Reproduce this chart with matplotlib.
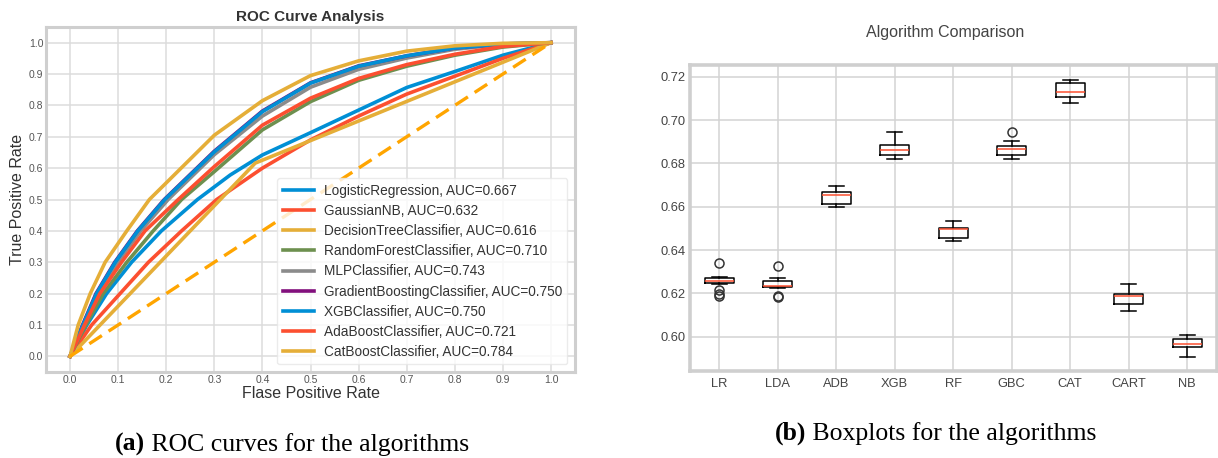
import numpy as np
import matplotlib
matplotlib.use("Agg")
import matplotlib.pyplot as plt

plt.rcParams['font.family'] = ['Liberation Sans', 'DejaVu Sans']

# ROC curves (fpr, tpr)
lr_fpr = [0, 0.035, 0.076, 0.128, 0.19, 0.265, 0.333, 0.4, 0.5, 0.6, 0.7, 0.8, 0.9, 1.0]
lr_tpr = [0, 0.1, 0.2, 0.3, 0.4, 0.5, 0.578, 0.642, 0.713, 0.785, 0.857, 0.908, 0.96, 1.0]
gnb_fpr = [0, 0.045, 0.104, 0.163, 0.232, 0.305, 0.4, 0.5, 0.6, 0.7, 0.8, 0.9, 1.0]
gnb_tpr = [0, 0.1, 0.2, 0.3, 0.4, 0.5, 0.60, 0.69, 0.766, 0.836, 0.893, 0.95, 1.0]
dt_fpr = [0, 0.385, 1.0]
dt_tpr = [0, 0.616, 1.0]
rf_fpr = [0, 0.033, 0.069, 0.118, 0.173, 0.232, 0.3, 0.4, 0.5, 0.6, 0.7, 0.8, 0.9, 1.0]
rf_tpr = [0, 0.1, 0.2, 0.3, 0.4, 0.5, 0.589, 0.722, 0.812, 0.88, 0.925, 0.96, 0.986, 1.0]
mlp_fpr = [0, 0.029, 0.058, 0.099, 0.147, 0.204, 0.3, 0.4, 0.5, 0.6, 0.7, 0.8, 0.9, 1.0]
mlp_tpr = [0, 0.1, 0.2, 0.3, 0.4, 0.5, 0.643, 0.766, 0.858, 0.915, 0.951, 0.979, 0.994, 1.0]
gb_fpr = [0, 0.026, 0.054, 0.093, 0.140, 0.196, 0.3, 0.4, 0.5, 0.6, 0.7, 0.8, 0.9, 1.0]
gb_tpr = [0, 0.1, 0.2, 0.3, 0.4, 0.5, 0.654, 0.782, 0.872, 0.926, 0.958, 0.983, 0.996, 1.0]
xgb_fpr = [0, 0.027, 0.055, 0.094, 0.141, 0.197, 0.3, 0.4, 0.5, 0.6, 0.7, 0.8, 0.9, 1.0]
xgb_tpr = [0, 0.1, 0.2, 0.3, 0.4, 0.5, 0.652, 0.78, 0.871, 0.925, 0.958, 0.983, 0.996, 1.0]
ada_fpr = [0, 0.03, 0.062, 0.107, 0.156, 0.225, 0.3, 0.4, 0.5, 0.6, 0.7, 0.8, 0.9, 1.0]
ada_tpr = [0, 0.1, 0.2, 0.3, 0.4, 0.5, 0.605, 0.737, 0.823, 0.886, 0.93, 0.963, 0.988, 1.0]
cat_fpr = [0, 0.017, 0.042, 0.073, 0.118, 0.165, 0.2, 0.3, 0.4, 0.5, 0.6, 0.7, 0.8, 0.9, 1.0]
cat_tpr = [0, 0.1, 0.2, 0.3, 0.4, 0.5, 0.553, 0.705, 0.815, 0.895, 0.942, 0.973, 0.99, 0.998, 1.0]

roc_names = ['LogisticRegression', 'GaussianNB', 'DecisionTreeClassifier',
             'RandomForestClassifier', 'MLPClassifier', 'GradientBoostingClassifier',
             'XGBClassifier', 'AdaBoostClassifier', 'CatBoostClassifier']
roc_auc = [0.667, 0.632, 0.616, 0.710, 0.743, 0.750, 0.750, 0.721, 0.784]
roc_fpr = [lr_fpr, gnb_fpr, dt_fpr, rf_fpr, mlp_fpr, gb_fpr, xgb_fpr, ada_fpr, cat_fpr]
roc_tpr = [lr_tpr, gnb_tpr, dt_tpr, rf_tpr, mlp_tpr, gb_tpr, xgb_tpr, ada_tpr, cat_tpr]
roc_colors = ['#008fd5', '#fc4f30', '#e5ae38', '#6d904f', '#8b8b8b',
              '#810f7c', '#008fd5', '#fc4f30', '#e5ae38']

# boxplot stats
box_names = ['LR', 'LDA', 'ADB', 'XGB', 'RF', 'GBC', 'CAT', 'CART', 'NB']
box_med = [0.6258, 0.6235, 0.6652, 0.6860, 0.6496, 0.6868, 0.7131, 0.6186, 0.5965]
box_q1 = [0.6249, 0.6229, 0.6612, 0.6839, 0.6454, 0.6839, 0.7105, 0.6150, 0.5951]
box_q3 = [0.6270, 0.6257, 0.6666, 0.6886, 0.6503, 0.6880, 0.7172, 0.6197, 0.5989]
box_lo = [0.6245, 0.6225, 0.6600, 0.6820, 0.6443, 0.6820, 0.7080, 0.6120, 0.5908]
box_hi = [0.6276, 0.6270, 0.6696, 0.6946, 0.6534, 0.6905, 0.7185, 0.6243, 0.6008]
box_fliers = [[0.6342, 0.6215, 0.6195, 0.6188], [0.6328, 0.6188, 0.6182],
              [], [], [], [0.6945], [], [], []]

W, H = 1218, 458
fig = plt.figure(figsize=(W / 100, H / 100), dpi=100)
fig.patch.set_facecolor('white')

def style_axes(ax, spine_w, grid_c):
    ax.set_facecolor('white')
    for s in ax.spines.values():
        s.set_color('#cfcfcf')
        s.set_linewidth(spine_w)
    ax.grid(True, color=grid_c, linewidth=1.1)
    ax.set_axisbelow(True)
    ax.tick_params(length=0)

# ---- left: ROC curves
ax1 = fig.add_axes([46 / W, (H - 372) / H, 529 / W, 345 / H])
style_axes(ax1, 2.2, '#dcdcdc')
for name, auc, fx, ty, c in zip(roc_names, roc_auc, roc_fpr, roc_tpr, roc_colors):
    ax1.plot(fx, ty, color=c, lw=2.6, label='{}, AUC={:.3f}'.format(name, auc))
ax1.plot([0, 1], [0, 1], color='orange', lw=2.4, linestyle=(0, (4.5, 2.4)))
ax1.set_xlim(-0.05, 1.05)
ax1.set_ylim(-0.05, 1.05)
ticks = np.arange(0, 1.01, 0.1)
ax1.set_xticks(ticks)
ax1.set_yticks(ticks)
ax1.set_xticklabels(['{:.1f}'.format(t) for t in ticks])
ax1.set_yticklabels(['{:.1f}'.format(t) for t in ticks])
ax1.tick_params(labelsize=7.5, labelcolor='#555555', pad=2)
ax1.set_xlabel('Flase Positive Rate', fontsize=11.5, color='#333333', labelpad=1)
ax1.set_ylabel('True Positive Rate', fontsize=11.5, color='#333333', labelpad=3)
ax1.set_title('ROC Curve Analysis', fontsize=11, fontweight='bold', color='#333333', pad=4)
leg = ax1.legend(loc='lower right', fontsize=9.85, labelspacing=0.45, frameon=True,
                 framealpha=0.8, handlelength=2.3, handletextpad=0.7,
                 borderpad=0.4, borderaxespad=0.55)
leg.get_frame().set_edgecolor('#e6e6e6')
for t in leg.get_texts():
    t.set_color('#333333')

# ---- right: boxplots
ax2 = fig.add_axes([690 / W, (H - 370.7) / H, 526.5 / W, 305.7 / H])
style_axes(ax2, 2.6, '#d3d3d3')
stats = []
for i in range(len(box_names)):
    stats.append({'label': box_names[i], 'med': box_med[i], 'q1': box_q1[i],
                  'q3': box_q3[i], 'whislo': box_lo[i], 'whishi': box_hi[i],
                  'fliers': box_fliers[i]})
ax2.bxp(stats, widths=0.5,
        boxprops=dict(color='black', linewidth=1.1),
        whiskerprops=dict(color='black', linewidth=1.1),
        capprops=dict(color='black', linewidth=1.1),
        medianprops=dict(color='#fc4f30', linewidth=1.1),
        flierprops=dict(marker='o', markerfacecolor='none', markeredgecolor='#333333',
                        markersize=6.5, markeredgewidth=1.1))
ax2.set_xlim(0.5, 9.5)
ax2.set_ylim(0.5843, 0.7254)
ax2.set_yticks([0.60, 0.62, 0.64, 0.66, 0.68, 0.70, 0.72])
ax2.yaxis.set_major_formatter(matplotlib.ticker.FormatStrFormatter('%.2f'))
ax2.tick_params(labelsize=9.3, labelcolor='#444444')
ax2.tick_params(axis='y', pad=3.5)
ax2.tick_params(axis='x', pad=5)
fig.text(945 / W, 1 - 32 / H, 'Algorithm Comparison', fontsize=11.5, color='#444444',
         ha='center', va='center')

# ---- captions: bold label followed by regular text
cap_font = ['Liberation Serif', 'DejaVu Serif']
t1 = fig.text(115 / W, (H - 451) / H, '(a)', fontweight='bold', family=cap_font,
              fontsize=18.5, va='baseline')
ax1.annotate(' ROC curves for the algorithms', xy=(1, 0), xycoords=t1,
             fontsize=18.5, family=cap_font, va='bottom', annotation_clip=False)
t2 = fig.text(775 / W, (H - 440) / H, '(b)', fontweight='bold', family=cap_font,
              fontsize=18.5, va='baseline')
ax2.annotate(' Boxplots for the algorithms', xy=(1, 0), xycoords=t2,
             fontsize=18.5, family=cap_font, va='bottom', annotation_clip=False)

fig.savefig('out.png', dpi=100, facecolor='white')
